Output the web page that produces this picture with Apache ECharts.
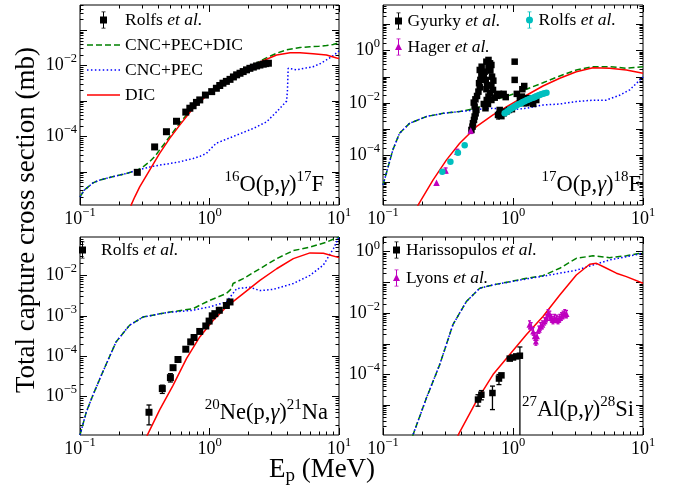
<!DOCTYPE html>
<html><head><meta charset="utf-8">
<script src="https://cdn.jsdelivr.net/npm/echarts@6/dist/echarts.min.js"></script>
<style>html,body{margin:0;padding:0;background:#fff}#c{width:673px;height:492px}</style>
</head><body><div id="c"></div>
<script>
const FONT = 'Liberation Serif';
// ---------- DATA: [E (MeV), sigma (mb)] ----------
// Panel 1: 16O(p,g)17F
const p1Rolfs = [[0.277,9.8e-6],[0.377,5.1e-5],[0.465,1.37e-4],[0.556,2.7e-4],[0.656,4.9e-4],[0.705,6.3e-4],[0.747,7.4e-4],[0.793,9.2e-4],[0.841,1.08e-3],[0.93,1.48e-3],[1.04,1.85e-3],[1.13,2.3e-3],[1.2,2.75e-3],[1.27,3.2e-3],[1.35,3.6e-3],[1.44,4.1e-3],[1.53,4.8e-3],[1.62,5.5e-3],[1.72,6.1e-3],[1.82,6.8e-3],[1.93,7.6e-3],[2.05,8.4e-3],[2.18,9.1e-3],[2.31,9.8e-3],[2.45,1.04e-2],[2.6,1.1e-2],[2.72,1.14e-2],[2.85,1.17e-2]];
const p1Sum = [[0.1,2.0e-6],[0.108,3.1e-6],[0.126,4.95e-6],[0.1415,5.9e-6],[0.169,7.0e-6],[0.228,9.1e-6],[0.277,1.13e-5],[0.31,1.45e-5],[0.345,1.95e-5],[0.38,2.8e-5],[0.412,4.2e-5],[0.45,6.4e-5],[0.493,1.0e-4],[0.589,2.4e-4],[0.66,3.9e-4],[0.747,7.0e-4],[0.85,1.1e-3],[1.0,1.66e-3],[1.2,2.7e-3],[1.52,4.9e-3],[1.8,7.2e-3],[2.18,1.05e-2],[2.7,1.6e-2],[3.3,2.24e-2],[3.95,2.8e-2],[4.05,3.1e-2],[5.0,3.25e-2],[5.97,3.4e-2],[7.0,3.5e-2],[8.0,3.7e-2],[9.0,3.95e-2],[10,4.4e-2]];
const p1Cnc = [[0.1,2.0e-6],[0.108,3.1e-6],[0.126,4.95e-6],[0.1415,5.9e-6],[0.169,7.0e-6],[0.228,9.1e-6],[0.289,1.18e-5],[0.35,1.4e-5],[0.412,1.57e-5],[0.5,1.75e-5],[0.589,1.95e-5],[0.747,2.4e-5],[0.85,2.8e-5],[0.948,3.35e-5],[1.0,4.2e-5],[1.13,6.5e-5],[1.52,1.0e-4],[2.18,1.7e-4],[2.76,2.6e-4],[3.3,5.0e-4],[3.94,1.0e-3],[4.0,2.06e-3],[4.05,8.4e-3],[4.7,7.6e-3],[5.5,8.5e-3],[6.3,9.3e-3],[7.2,1.15e-2],[8.0,1.45e-2],[9.0,1.9e-2],[10,2.6e-2]];
const p1Dic = [[0.24,7e-7],[0.249,1.2e-6],[0.265,2.0e-6],[0.289,3.8e-6],[0.345,1.13e-5],[0.412,3.35e-5],[0.493,8.9e-5],[0.589,2.1e-4],[0.747,6.3e-4],[1.0,1.7e-3],[1.52,4.9e-3],[2.18,1.05e-2],[3.3,2.0e-2],[4.19,2.3e-2],[5.0,2.3e-2],[6.3,2.15e-2],[8.0,2.0e-2],[9.6,1.65e-2],[10,1.6e-2]];
// Panel 2: 17O(p,g)18F
const p2Gyurky = [[0.479,9.5e-4],[0.488,1.27e-3],[0.492,1.71e-3],[0.501,2.3e-3],[0.507,3.1e-3],[0.516,4.1e-3],[0.523,5.5e-3],[0.507,7.4e-3],[0.499,1.05e-2],[0.514,1.4e-2],[0.529,1.88e-2],[0.542,2.75e-2],[0.555,4.0e-2],[0.548,5.8e-2],[0.561,7.7e-2],[0.571,0.119],[0.555,0.184],[0.574,0.245],[0.605,0.158],[0.596,0.102],[0.617,7.7e-2],[0.631,4.9e-2],[0.624,3.4e-2],[0.624,0.381],[0.648,0.443],[0.666,0.33],[0.682,0.285],[0.648,0.23],[0.67,0.174],[0.69,0.102],[0.706,7.2e-2],[0.682,4.7e-2],[0.702,3.2e-2],[0.666,2.4e-2],[0.648,1.78e-2],[0.628,1.32e-2],[0.596,9.3e-3],[0.614,6.4e-3],[0.642,9.3e-3],[0.682,1.32e-2],[0.723,1.62e-2],[0.753,1.9e-2],[0.78,2.26e-2],[0.814,2.05e-2],[0.847,2.26e-2],[0.879,1.7e-2],[0.79,5.5e-3],[0.767,3.55e-3],[0.814,3.2e-3],[0.847,4.1e-3],[0.889,4.8e-3],[0.931,5.5e-3],[0.981,5.9e-3],[1.03,7.7e-2],[1.03,0.381],[1.07,2.26e-2],[1.13,1.32e-2],[1.18,3.4e-2],[1.22,4.5e-2],[1.17,1.78e-2],[1.21,1e-2],[1.27,1e-2],[1.34,1.15e-2],[1.43,9.3e-3],[1.51,1.32e-2],[1.3,1.55e-2],[1.38,1.32e-2]];
const p2GyurkyErr = [[0.492,1.2e-3,2.4e-3],[0.767,2.5e-3,4.8e-3]];
const p2Rolfs = [[0.286,2.45e-5],[0.33,5.9e-5],[0.377,1.3e-4],[0.425,2.5e-4],[0.863,4.1e-3],[0.889,4.5e-3],[0.916,5.06e-3],[0.944,5.7e-3],[0.972,6.2e-3],[1.0,6.8e-3],[1.03,7.4e-3],[1.06,8.1e-3],[1.09,8.8e-3],[1.13,9.6e-3],[1.16,1.02e-2],[1.19,1.11e-2],[1.23,1.18e-2],[1.27,1.29e-2],[1.3,1.36e-2],[1.34,1.45e-2],[1.38,1.53e-2],[1.43,1.62e-2],[1.47,1.72e-2],[1.51,1.82e-2],[1.56,1.94e-2],[1.6,2.05e-2],[1.65,2.17e-2],[1.7,2.3e-2],[1.75,2.37e-2],[1.81,2.5e-2]];
const p2Hager = [[0.258,9.3e-6],[0.303,2.7e-5],[0.373,1.4e-4],[0.473,9e-4]];
const p2HagerErr = [[0.303,2.2e-5,3.4e-5],[0.373,1.15e-4,1.75e-4],[0.473,7e-4,1.2e-3]];
const p2Sum = [[0.1,7.7e-6],[0.106,2.1e-5],[0.119,1.65e-4],[0.134,7.1e-4],[0.16,1.7e-3],[0.216,3.1e-3],[0.29,4.1e-3],[0.389,4.8e-3],[0.523,6.4e-3],[0.702,1.3e-2],[0.944,2.0e-2],[1.27,3.4e-2],[1.7,6e-2],[2.29,0.109],[3.07,0.184],[4.12,0.246],[5.54,0.246],[7.45,0.214],[10,0.246]];
const p2Cnc = [[0.1,7.7e-6],[0.106,2.1e-5],[0.119,1.65e-4],[0.134,7.1e-4],[0.16,1.7e-3],[0.216,3.1e-3],[0.29,4.1e-3],[0.389,4.8e-3],[0.465,5.2e-3],[0.523,5.8e-3],[0.702,6.4e-3],[0.944,5.5e-3],[1.27,6.4e-3],[1.7,8.5e-3],[2.29,9.3e-3],[3.07,1.15e-2],[4.12,1.3e-2],[5.2,1.3e-2],[6.6,2e-2],[7.9,3.2e-2],[10,0.1]];
const p2Dic = [[0.18,9e-7],[0.186,1.3e-6],[0.243,1.19e-5],[0.308,6.9e-5],[0.389,2.95e-4],[0.523,1.27e-3],[0.702,3.55e-3],[0.944,8.5e-3],[1.27,2.0e-2],[1.7,4.5e-2],[2.29,8.9e-2],[3.07,0.158],[4.12,0.225],[5.54,0.214],[7.45,0.184],[10,0.138]];
// Panel 3: 20Ne(p,g)21Na
const p3Rolfs = [[0.341,4.1e-6],[0.432,1.58e-5],[0.499,2.95e-5],[0.523,5.2e-5],[0.571,8.3e-5],[0.656,1.49e-4],[0.716,2.26e-4],[0.76,2.9e-4],[0.841,4.1e-4],[0.936,5.6e-4],[0.993,7.4e-4],[1.05,1e-3],[1.1,1.13e-3],[1.19,1.37e-3],[1.35,1.8e-3],[1.44,2.2e-3]];
const p3RolfsErr = [[0.341,2.0e-6,6.2e-6],[0.432,1.2e-5,1.92e-5],[0.499,2.3e-5,3.7e-5]];
const p3Sum = [[0.1,1.12e-6],[0.112,4.2e-6],[0.126,1.1e-5],[0.15,4.1e-5],[0.19,2.26e-4],[0.241,5.8e-4],[0.306,9.3e-4],[0.465,1.2e-3],[0.747,1.5e-3],[1.0,2.4e-3],[1.35,3.55e-3],[1.48,4.7e-3],[1.52,6.3e-3],[1.82,8.3e-3],[2.45,1.46e-2],[3.3,2.6e-2],[4.44,4.1e-2],[5.97,5.0e-2],[8.05,6.7e-2],[10,9e-2]];
const p3Cnc = [[0.1,1.12e-6],[0.112,4.2e-6],[0.126,1.1e-5],[0.15,4.1e-5],[0.19,2.26e-4],[0.241,5.8e-4],[0.306,9.3e-4],[0.465,1.2e-3],[0.747,1.37e-3],[1.0,1.66e-3],[1.35,2.2e-3],[1.62,4.7e-3],[2.05,5.1e-3],[2.45,4.2e-3],[3.1,4.5e-3],[4.44,6.3e-3],[5.97,1e-2],[7.57,1.8e-2],[9.06,4.6e-2],[10,9e-2]];
const p3Dic = [[0.325,8e-7],[0.329,1.07e-6],[0.412,4.7e-6],[0.523,1.9e-5],[0.664,8.7e-5],[0.841,3e-4],[1.07,7.8e-4],[1.35,1.66e-3],[1.82,3.55e-3],[2.45,7.5e-3],[3.3,1.46e-2],[4.44,2.6e-2],[5.97,3.6e-2],[7.57,3.55e-2],[10,2.75e-2]];
// Panel 4: 27Al(p,g)28Si
const p4Har = [[0.538,1.53e-5],[0.571,2.2e-5],[0.695,2.5e-5],[0.78,7.4e-5],[0.815,9.4e-5],[0.944,3.3e-4],[1.0,3.6e-4],[1.06,3.9e-4],[1.13,4.1e-4]];
const p4HarErr = [[0.538,9.3e-6,2.2e-5],[0.571,1.5e-5,3.0e-5],[0.695,7.2e-6,4.2e-5],[0.78,4.7e-5,1.0e-4],[1.13,1e-8,7.9e-4]];
const p4Lyons = [[1.34,4.2e-3],[1.38,3.7e-3],[1.43,2.5e-3],[1.47,1.75e-3],[1.5,1.2e-3],[1.53,1.75e-3],[1.58,2.9e-3],[1.63,3.7e-3],[1.68,4.2e-3],[1.75,5.4e-3],[1.81,6.9e-3],[1.86,1.0e-2],[1.92,8.8e-3],[1.97,6.9e-3],[2.03,6.0e-3],[2.09,6.9e-3],[2.16,6.5e-3],[2.22,6.0e-3],[2.29,6.9e-3],[2.36,7.8e-3],[2.43,8.8e-3],[2.5,1.0e-2],[2.58,9.3e-3]];
const p4LyonsErr = [[1.34,3.1e-3,5.6e-3],[1.38,2.8e-3,4.9e-3],[1.43,1.9e-3,3.4e-3],[1.47,1.3e-3,2.3e-3],[1.5,9e-4,1.6e-3],[1.53,1.3e-3,2.3e-3],[1.58,2.2e-3,3.8e-3],[1.63,2.8e-3,4.9e-3],[1.68,3.1e-3,5.6e-3],[1.75,4.1e-3,7.1e-3],[1.81,5.2e-3,9.1e-3],[1.86,7.6e-3,1.3e-2],[1.92,6.7e-3,1.16e-2],[1.97,5.2e-3,9.1e-3],[2.03,4.5e-3,7.9e-3],[2.09,5.2e-3,9.1e-3],[2.16,4.9e-3,8.6e-3],[2.22,4.5e-3,7.9e-3],[2.29,5.2e-3,9.1e-3],[2.36,5.9e-3,1.03e-2],[2.43,6.7e-3,1.16e-2],[2.5,7.6e-3,1.3e-2],[2.58,7.0e-3,1.22e-2]];
const p4Sum = [[0.165,5e-7],[0.17,1.07e-6],[0.216,1.74e-5],[0.273,2.1e-4],[0.345,4.2e-3],[0.438,2.4e-2],[0.555,6.5e-2],[0.702,8.3e-2],[1.27,0.136],[1.7,0.166],[2.29,0.29],[3.07,0.61],[4.12,0.74],[5.54,0.64],[7.45,0.74],[10,0.93]];
const p4Cnc = [[0.165,5e-7],[0.17,1.07e-6],[0.216,1.74e-5],[0.273,2.1e-4],[0.345,4.2e-3],[0.438,2.4e-2],[0.555,6.5e-2],[0.702,8.3e-2],[1.27,0.13],[1.7,0.16],[2.29,0.2],[3.07,0.25],[4.12,0.37],[5.54,0.54],[7.45,0.69],[10,0.9]];
const p4Dic = [[0.37,5e-7],[0.378,1.07e-6],[0.523,1.35e-5],[0.702,1e-4],[0.944,4.5e-4],[1.27,2e-3],[1.7,7.8e-3],[2.29,3.9e-2],[3.07,0.175],[3.89,0.39],[4.38,0.42],[4.92,0.33],[6.24,0.2],[7.45,0.155],[10,9.4e-2]];
// axis ranges (log10 of E and sigma)
const xRange = [-1, 1];
const yRanges = [[-5.93,-0.29],[-5.88,1.74],[-5.95,-1.05],[-5.97,0.48]];
const yLabelExps = [[-4,-2],[-4,-2,0],[-5,-4,-3,-2],[-4,-2,0]];
const xLabelExps = [-1,0,1];

// ---------- build ----------
const grids = [
  {left:80, top:5, width:259, height:200},
  {left:383, top:5, width:260, height:200},
  {left:80, top:237, width:259, height:198},
  {left:383, top:237, width:260, height:198}
];
const L = a => a.map(p => [Math.log10(p[0]), Math.log10(p[1])]);
const LE = a => a.map(p => [Math.log10(p[0]), Math.log10(p[1]), Math.log10(p[2])]);
function majorsIn(r){const a=[];for(let n=Math.ceil(r[0]-1e-9);n<=Math.floor(r[1]+1e-9);n++)a.push(n);return a;}
function minorsIn(r){const a=[];for(let n=Math.floor(r[0]);n<Math.ceil(r[1]);n++)for(let k=2;k<=9;k++){const v=n+Math.log10(k);if(v>r[0]&&v<r[1])a.push(v);}return a;}
const powLabel = v => { const e = Math.round(v); return '{b|10}{s|' + (e < 0 ? '\u2212' + (-e) : e) + '}'; };
const labelRich = {
  b:{fontFamily:FONT,fontSize:18,lineHeight:26,color:'#000'},
  s:{fontFamily:FONT,fontSize:12.5,lineHeight:12,verticalAlign:'top',color:'#000'}
};
function axis(dim, g, range, pos, major, labels){
  const o = {type:'value', gridIndex:g, min:range[0], max:range[1], position:pos, silent:true,
    axisLine:{show:false,onZero:false}, splitLine:{show:false},
    axisTick:{show:true,inside:true,length:major?7:3.5,lineStyle:{color:'#000',width:1},
      customValues: major ? majorsIn(range) : minorsIn(range)},
    axisLabel:{show:false}};
  if (labels) o.axisLabel = {show:true, customValues:labels, formatter:powLabel, rich:labelRich,
    fontFamily:FONT, margin: dim==='x' ? 1 : 3, color:'#000'};
  return o;
}
const xAxis = [], yAxis = [];
for (let g=0; g<4; g++){
  xAxis.push(axis('x',g,xRange,'bottom',true,xLabelExps), axis('x',g,xRange,'bottom',false),
             axis('x',g,xRange,'top',true), axis('x',g,xRange,'top',false));
  yAxis.push(axis('y',g,yRanges[g],'left',true,yLabelExps[g]), axis('y',g,yRanges[g],'left',false),
             axis('y',g,yRanges[g],'right',true), axis('y',g,yRanges[g],'right',false));
}
const GREEN='#008000', BLUE='#0000ff', RED='#ff0000', CYAN='#00bfbf', MAG='#bf00bf';
function line(name,data,g,color,type){
  return {type:'line', name, data:L(data), xAxisIndex:4*g, yAxisIndex:4*g, symbol:'none', clip:true,
    lineStyle:{color,width:1.5,type}, itemStyle:{color}, z:2};
}
function scat(name,data,g,symbol,size,color){
  return {type:'scatter', name, data:L(data), xAxisIndex:4*g, yAxisIndex:4*g, symbol, symbolSize:size,
    itemStyle:{color,opacity:1}, clip:true, z:4};
}
function err(data,g,color,cap){
  const r = yRanges[g];
  return {type:'custom', xAxisIndex:4*g, yAxisIndex:4*g, data:LE(data), z:3, silent:true,
    renderItem:(params,api)=>{
      const x=api.value(0), lo=api.value(1), hi=api.value(2);
      const loC=Math.max(lo,r[0]), hiC=Math.min(hi,r[1]);
      const a=api.coord([x,loC]), b=api.coord([x,hiC]);
      const ch=[{type:'line',shape:{x1:a[0],y1:a[1],x2:b[0],y2:b[1]},style:{stroke:color,lineWidth:1.3}}];
      if (lo>=r[0]) ch.push({type:'line',shape:{x1:a[0]-cap,y1:a[1],x2:a[0]+cap,y2:a[1]},style:{stroke:color,lineWidth:1.3}});
      if (hi<=r[1]) ch.push({type:'line',shape:{x1:b[0]-cap,y1:b[1],x2:b[0]+cap,y2:b[1]},style:{stroke:color,lineWidth:1.3}});
      return {type:'group',children:ch};
    }};
}
const DASH=[6,3], DOT=[1.5,2.2];
const series = [];
const curves = [[p1Sum,p1Cnc,p1Dic],[p2Sum,p2Cnc,p2Dic],[p3Sum,p3Cnc,p3Dic],[p4Sum,p4Cnc,p4Dic]];
curves.forEach((c,g)=>{
  series.push(line('CNC+PEC+DIC',c[0],g,GREEN,DASH), line('CNC+PEC',c[1],g,BLUE,DOT), line('DIC',c[2],g,RED,'solid'));
});
series.push(
  scat('Rolfs et al. (16O)',p1Rolfs,0,'rect',7,'#000'),
  err(p2GyurkyErr,1,'#000',2), scat('Gyurky et al.',p2Gyurky,1,'rect',6.5,'#000'),
  err(p2HagerErr,1,MAG,2), scat('Hager et al.',p2Hager,1,'triangle',6.5,MAG),
  scat('Rolfs et al. (17O)',p2Rolfs,1,'circle',6.5,CYAN),
  err(p3RolfsErr,2,'#000',2.5), scat('Rolfs et al. (20Ne)',p3Rolfs,2,'rect',7,'#000'),
  err(p4HarErr,3,'#000',2.5), scat('Harissopulos et al.',p4Har,3,'rect',6.5,'#000'),
  err(p4LyonsErr,3,MAG,1.5), scat('Lyons et al.',p4Lyons,3,'triangle',6,MAG)
);
// legend icons
const SQ='path://M1.5,0H5.5V0.8H4V5H7V12H4V16.2H5.5V17H1.5V16.2H3V12H0V5H3V0.8H1.5Z';
const CI='path://M3,0.8H4V16.2H3Z M1.5,0H5.5V0.8H1.5Z M1.5,16.2H5.5V17H1.5Z M0,8.5A3.5,3.5,0,1,1,7,8.5A3.5,3.5,0,1,1,0,8.5Z';
const TR='path://M3,0.8H4V16.2H3Z M1.5,0H5.5V0.8H1.5Z M1.5,16.2H5.5V17H1.5Z M3.5,4.5L7,11.5H0Z';
const LN_DASH='path://M0,0H6V1.5H0Z M9,0H15V1.5H9Z M18,0H24V1.5H18Z M27,0H33V1.5H27Z';
let dots=''; for (let i=0;i<9;i++){ const x0=(i*3.94).toFixed(2); dots += 'M'+x0+',0h1.5v1.5h-1.5Z '; }
const LN_DOT='path://'+dots.trim();
const LN_SOLID='path://M0,0H33V1.5H0Z';
const legRich = {n:{fontFamily:FONT,fontSize:17.5,color:'#000',lineHeight:18},
                 i:{fontFamily:FONT,fontSize:17.5,fontStyle:'italic',color:'#000',lineHeight:18}};
const legFmt = name => { const b=name.replace(/ \(.*\)$/,''); return b.endsWith(' et al.') ? '{n|'+b.slice(0,-7)+' }{i|et al.}' : '{n|'+b+'}'; };
function leg(left,top,w,gap,data){
  return {left,top,orient:'vertical',align:'left',itemWidth:w,itemHeight:17,itemGap:gap,padding:0,
    selectedMode:false,formatter:legFmt,textStyle:{fontFamily:FONT,fontSize:17.5,color:'#000',lineHeight:18,rich:legRich},data};
}
const legend = [
  leg(87,11,33,7,[{name:'Rolfs et al. (16O)',icon:SQ},{name:'CNC+PEC+DIC',icon:LN_DASH},{name:'CNC+PEC',icon:LN_DOT},{name:'DIC',icon:LN_SOLID}]),
  leg(395,12,8,8,[{name:'Gyurky et al.',icon:SQ}]),
  leg(526,11,8,8,[{name:'Rolfs et al. (17O)',icon:CI}]),
  leg(395,38,8,8,[{name:'Hager et al.',icon:TR}]),
  leg(79,241,27,8,[{name:'Rolfs et al. (20Ne)',icon:SQ}]),
  leg(393,241,9,10,[{name:'Harissopulos et al.',icon:SQ},{name:'Lyons et al.',icon:TR}])
];
// text
const rxRich = {b:{fontFamily:FONT,fontSize:22.5,lineHeight:30,fill:'#000'},
                g:{fontFamily:FONT,fontSize:22.5,lineHeight:30,fontStyle:'italic',fill:'#000'},
                s:{fontFamily:FONT,fontSize:15,lineHeight:15,verticalAlign:'top',fill:'#000'}};
function rx(x,y,text){return {type:'text',x,y,silent:true,style:{text,rich:rxRich,fontFamily:FONT,fontSize:22.5,align:'right',verticalAlign:'bottom',fill:'#000'}};}
const graphic = [
  {type:'text',x:27,y:220,rotation:Math.PI/2,silent:true,style:{text:'Total capture cross section (mb)',font:'27px "Liberation Serif"',fill:'#000',align:'center',verticalAlign:'middle'}},
  {type:'text',x:322,y:470,silent:true,style:{text:'{b|E}{p|p}{b| (MeV)}',fontFamily:FONT,fontSize:27,align:'center',verticalAlign:'middle',
    rich:{b:{fontFamily:FONT,fontSize:27,lineHeight:32,fill:'#000'},p:{fontFamily:FONT,fontSize:19,lineHeight:18,verticalAlign:'bottom',fill:'#000'}}}},
  rx(324,200,'{s|16}{b|O(p,}{g|\u03b3}{b|)}{s|17}{b|F}'),
  rx(641,200,'{s|17}{b|O(p,}{g|\u03b3}{b|)}{s|18}{b|F}'),
  rx(328,428,'{s|20}{b|Ne(p,}{g|\u03b3}{b|)}{s|21}{b|Na}'),
  rx(634,425,'{s|27}{b|Al(p,}{g|\u03b3}{b|)}{s|28}{b|Si}')
];
const chart = echarts.init(document.getElementById('c'), null, {renderer:'canvas'});
chart.setOption({animation:false, backgroundColor:'#fff', textStyle:{fontFamily:FONT},
  grid: grids.map(g=>Object.assign({show:true,borderColor:'#000',borderWidth:1,backgroundColor:'transparent',containLabel:false,outerBoundsMode:'none'},g)),
  xAxis, yAxis, legend, graphic, series});
</script></body></html>
